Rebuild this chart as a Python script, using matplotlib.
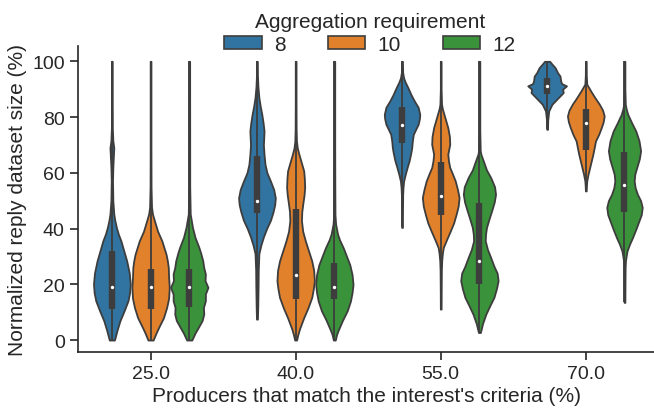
import numpy as np
import matplotlib
matplotlib.use("Agg")
import matplotlib.pyplot as plt
import matplotlib.patches as mpatches
import seaborn as sns

sns.set_style("ticks")
plt.rcParams["font.family"] = ["Liberation Sans", "DejaVu Sans"]

categories = ["25.0", "40.0", "55.0", "70.0"]
hues = ["8", "10", "12"]
colors = ["#3274a1", "#e1812c", "#3a923a"]
gray = "#3d3d3d"

# density profiles: value levels and relative density
y_25_8 = [0, 3.5, 6.9, 10.5, 14.1, 17, 20.1, 24, 28.4, 32, 35.6, 38, 40.4, 43, 45.2, 50, 57.1, 62, 66.7, 69, 71.5, 76, 85, 100]
d_25_8 = [8, 16, 25, 38, 50, 55, 57, 54, 46, 37, 28, 20, 14, 9, 6, 3, 2, 3, 5, 6, 3, 1.5, 1.2, 1.2]
y_25_10 = [0, 2.5, 4.5, 8, 11.7, 15, 18.9, 22.5, 26, 28.5, 30.8, 33, 35.6, 39, 42.8, 45.2, 47.6, 55, 70, 100]
d_25_10 = [8, 17, 25, 40, 50, 56, 58, 56, 55, 52, 48, 42, 35, 22, 12, 6, 3, 1.5, 1.2, 1.2]
y_25_12 = [0, 2.5, 4.5, 7, 9.3, 11.7, 14.1, 16.5, 18.9, 21.3, 23.7, 26, 28.4, 31, 33.2, 36.8, 40.4, 45.2, 55, 100]
d_25_12 = [8, 18, 28, 40, 45, 44, 50, 50, 58, 49, 50, 45, 42, 36, 30, 18, 10, 3, 1.5, 1.2]

y_40_8 = [7.5, 12, 19, 25, 31, 34, 37, 40, 43, 46, 48.5, 51, 54, 57, 60, 63, 66.5, 70, 75, 78, 81, 84, 87, 91, 95, 100]
d_40_8 = [1.5, 2.5, 3.5, 4, 6, 12, 20, 30, 42, 50, 55, 57, 52, 42, 31, 25, 22, 20, 22, 19, 15, 10, 6, 3, 1.5, 1.2]
y_40_10 = [0, 2, 4, 8, 11.5, 15.3, 18.5, 21.3, 25, 28.4, 32, 35.6, 39, 42.8, 46, 48.7, 52, 54.7, 58, 60.7, 63.5, 66.7, 69, 71.4, 76, 85, 100]
d_40_10 = [3, 7, 12, 25, 38, 50, 55, 58, 56, 50, 40, 30, 22, 18, 19, 22, 26, 28, 27, 25, 18, 10, 5, 2.5, 1.5, 1.2, 1.2]
y_40_12 = [0, 2, 3.5, 7, 10.5, 14, 17, 20, 23.5, 27, 30, 33, 36, 38, 41.6, 45, 55, 70, 100]
d_40_12 = [3, 7, 12, 25, 40, 50, 55, 58, 55, 48, 38, 28, 16, 10, 4, 2, 1.5, 1.2, 1.2]

y_55_8 = [40.4, 47, 52, 54.7, 57, 59.5, 62, 64.3, 67, 69, 71.5, 73.8, 76, 77.4, 79.5, 81, 83.5, 85.8, 88, 90.6, 92.5, 94, 96, 100]
d_55_8 = [1.2, 1.5, 2, 3, 5, 10, 16, 22, 27, 30, 32, 35, 44, 50, 54, 55, 50, 38, 28, 18, 10, 5, 2, 1.2]
y_55_10 = [11.1, 18, 25, 28.4, 31, 33.2, 36, 39.2, 42, 45.2, 48, 51.1, 54, 57.1, 60, 61.9, 64.3, 66.7, 68.5, 70.2, 73, 76.2, 79, 81, 83, 84.6, 90, 100]
d_55_10 = [1.2, 1.5, 2, 3, 5, 8, 18, 30, 40, 48, 54, 57, 52, 45, 35, 28, 24, 22, 25, 28, 27, 22, 15, 10, 5, 2.5, 1.2, 1.2]
y_55_12 = [2.7, 6, 9.3, 12.5, 15.3, 18.5, 21.3, 24, 26.5, 29.6, 32.5, 35.6, 38, 40.4, 43.5, 46.4, 49.5, 52.3, 55, 58.3, 61, 64.3, 66.5, 67.9, 75, 100]
d_55_12 = [3, 10, 20, 33, 45, 53, 58, 55, 45, 35, 25, 18, 19, 22, 30, 38, 46, 50, 47, 35, 22, 12, 5, 2.5, 1.2, 1.2]

y_70_8 = [75.6, 79, 82.2, 84.6, 87, 88.8, 90, 91.2, 92, 93, 94.7, 96, 97.7, 99, 100]
d_70_8 = [1.2, 2, 5, 15, 35, 50, 48, 60, 45, 42, 40, 32, 25, 15, 8]
y_70_10 = [53.5, 55.5, 57.1, 59.5, 61.9, 64.3, 66.7, 69, 71.4, 73.8, 76.2, 78.3, 80.4, 82.5, 84.6, 87, 89.4, 91.8, 95, 100]
d_70_10 = [1.2, 2, 3, 7, 12, 17, 22, 26, 30, 40, 48, 54, 57, 52, 42, 28, 15, 3, 1.5, 1.2]
y_70_12 = [13.5, 20, 26, 28.4, 30, 32, 34.5, 36.8, 40, 42.8, 45, 47.6, 50, 52.3, 54.7, 57.1, 59.5, 61.9, 65, 67.9, 71.5, 75, 78, 81, 83, 84.6, 90, 100]
d_70_12 = [1.2, 1.5, 2, 3, 5, 8, 16, 25, 36, 45, 52, 55, 50, 40, 33, 30, 32, 38, 46, 50, 45, 35, 22, 10, 5, 2.5, 1.2, 1.2]

# quartiles and medians per hue, one value per category
q1_8 = [11.1, 45.4, 70.8, 88.4]
med_8 = [18.9, 50.0, 77.2, 91.2]
q3_8 = [32.0, 66.0, 83.6, 93.9]
q1_10 = [11.1, 14.7, 44.9, 68.1]
med_10 = [18.9, 23.3, 51.5, 77.8]
q3_10 = [25.4, 47.0, 63.7, 82.8]
q1_12 = [11.7, 14.7, 20.1, 46.1]
med_12 = [18.9, 19.2, 28.4, 55.6]
q3_12 = [25.4, 27.5, 49.1, 67.6]

profiles = {
    "8": [(y_25_8, d_25_8), (y_40_8, d_40_8), (y_55_8, d_55_8), (y_70_8, d_70_8)],
    "10": [(y_25_10, d_25_10), (y_40_10, d_40_10), (y_55_10, d_55_10), (y_70_10, d_70_10)],
    "12": [(y_25_12, d_25_12), (y_40_12, d_40_12), (y_55_12, d_55_12), (y_70_12, d_70_12)],
}
boxes = {"8": (q1_8, med_8, q3_8), "10": (q1_10, med_10, q3_10), "12": (q1_12, med_12, q3_12)}

fig = plt.figure(figsize=(6.54, 4.14), dpi=100)
ax = fig.add_axes([0.1193, 0.1473, 0.8807, 0.7392])

dodge = 0.8 / len(hues)
global_max = max(max(d) for h in hues for _, d in profiles[h])

for j, h in enumerate(hues):
    offset = -0.4 + dodge * (j + 0.5)
    q1s, meds, q3s = boxes[h]
    for i in range(len(categories)):
        ys, ds = profiles[h][i]
        pos = i + offset
        stats = dict(coords=np.array(ys), vals=np.array(ds), mean=meds[i],
                     median=meds[i], min=ys[0], max=ys[-1])
        width = dodge * max(ds) / global_max
        parts = ax.violin([stats], positions=[pos], widths=[width],
                          showmeans=False, showextrema=False, showmedians=False)
        for body in parts["bodies"]:
            body.set_facecolor(colors[j])
            body.set_edgecolor(gray)
            body.set_linewidth(1.3)
            body.set_alpha(1)
        # thin line over the whole range, thick box over the quartiles
        ax.plot([pos, pos], [ys[0], ys[-1]], color=gray, lw=1.3, solid_capstyle="butt", zorder=3)
        ax.plot([pos, pos], [q1s[i], q3s[i]], color=gray, lw=4.6, solid_capstyle="butt", zorder=3)
        ax.scatter([pos], [meds[i]], s=6, color="white", linewidths=0, zorder=4)

ax.set_xlim(-0.5, 3.47)
ax.set_ylim(-4.3, 105.5)
ax.set_xticks(range(len(categories)))
ax.set_xticklabels(categories)
ax.set_yticks([0, 20, 40, 60, 80, 100])
ax.tick_params(labelsize=14, length=6, width=1.2, colors="#262626")
ax.set_xlabel("Producers that match the interest's criteria (%)", fontsize=15, labelpad=3, color="#262626")
ax.set_ylabel("Normalized reply dataset size (%)", fontsize=15, labelpad=4, color="#262626")
for s in ax.spines.values():
    s.set_linewidth(1.2)
sns.despine(ax=ax)

handles = [mpatches.Patch(facecolor=c, edgecolor=gray, linewidth=1.2) for c in colors]
leg = fig.legend(handles, hues, title="Aggregation requirement", ncol=3, frameon=False,
                 loc="upper center", bbox_to_anchor=(0.566, 1.0), fontsize=15,
                 title_fontsize=15, handlelength=1.8, handleheight=0.55, columnspacing=2.0,
                 handletextpad=0.6, borderaxespad=0.2, labelspacing=0.2)
plt.setp(leg.get_texts(), color="#262626")
leg.get_title().set_color("#262626")

fig.savefig("out.png", dpi=100)
